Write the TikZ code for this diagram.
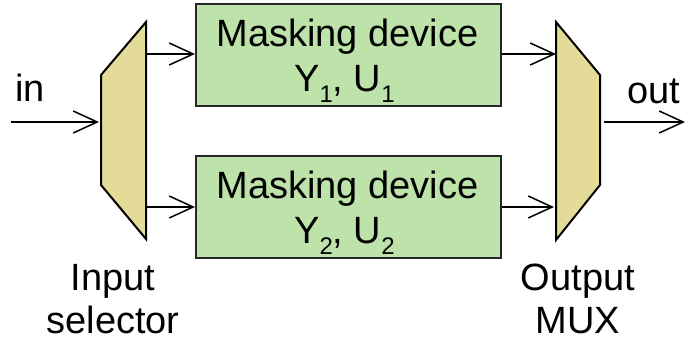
\documentclass[tikz,border=0pt]{standalone}
\usepackage{fontspec}
\setmainfont{Liberation Sans}
\usetikzlibrary{arrows.meta}
\definecolor{boxgreen}{HTML}{BDE3AA}
\definecolor{muxfill}{HTML}{E5DB98}
\newcommand\lowsub[1]{\raisebox{-11pt}{\fontsize{24}{24}\selectfont #1}}
\begin{document}
\begin{tikzpicture}[x=1pt,y=-1pt,
  lbl/.style={font=\fontsize{38}{43}\selectfont, inner sep=0pt, anchor=base},
  box/.style={draw=black!85, line width=2pt, fill=boxgreen, minimum width=305pt, minimum height=102pt, inner sep=0pt},
  mux/.style={draw=black, line width=2pt, fill=muxfill, line join=miter},
  conn/.style={line width=1.5pt, -{Straight Barb[length=24pt,width=22pt,line width=1.5pt]}}
]
\useasboundingbox (0,0) rectangle (686,345);

% input selector
\draw[mux] (101,75) -- (146,22) -- (146,239) -- (101,185) -- cycle;
\coordinate (selin) at (99,122);
\coordinate (selo1) at (147,54);
\coordinate (selo2) at (147,207);

% output mux
\draw[mux] (556,22) -- (600,75) -- (600,185) -- (556,240) -- cycle;
\coordinate (muxi1) at (556,54);
\coordinate (muxi2) at (554,207);
\coordinate (muxo) at (604,122);

% masking devices
\node[box] (m1) at (348.5,55) {};
\node[box] (m2) at (348.5,206.5) {};
\node[lbl] (m1a) at (347.5,47) {Masking device};
\node[lbl] (m1b) at (344.5,92) {Y\lowsub{1}, U\lowsub{1}};
\node[lbl] (m2a) at (347.5,198.5) {Masking device};
\node[lbl] (m2b) at (344.5,243.5) {Y\lowsub{2}, U\lowsub{2}};

% labels
\node[lbl, anchor=base west] (in) at (15,102) {in};
\node[lbl, anchor=base west] (out) at (627,103) {out};
\node[lbl, align=center] (insel) at (113,333) {Input\\selector};
\node[lbl, align=center] (outmux) at (578,333) {Output\\MUX};

\coordinate (instart) at (11,122);
\coordinate (outend) at (685,122);

% connectors
\draw[conn] (instart) -- (selin);
\draw[conn] (selo1) -- (m1.west |- selo1);
\draw[conn] (selo2) -- (m2.west |- selo2);
\draw[conn] (m1.east |- muxi1) -- (muxi1);
\draw[conn] (m2.east |- muxi2) -- (muxi2);
\draw[conn] (muxo) -- (outend);
\end{tikzpicture}
\end{document}
